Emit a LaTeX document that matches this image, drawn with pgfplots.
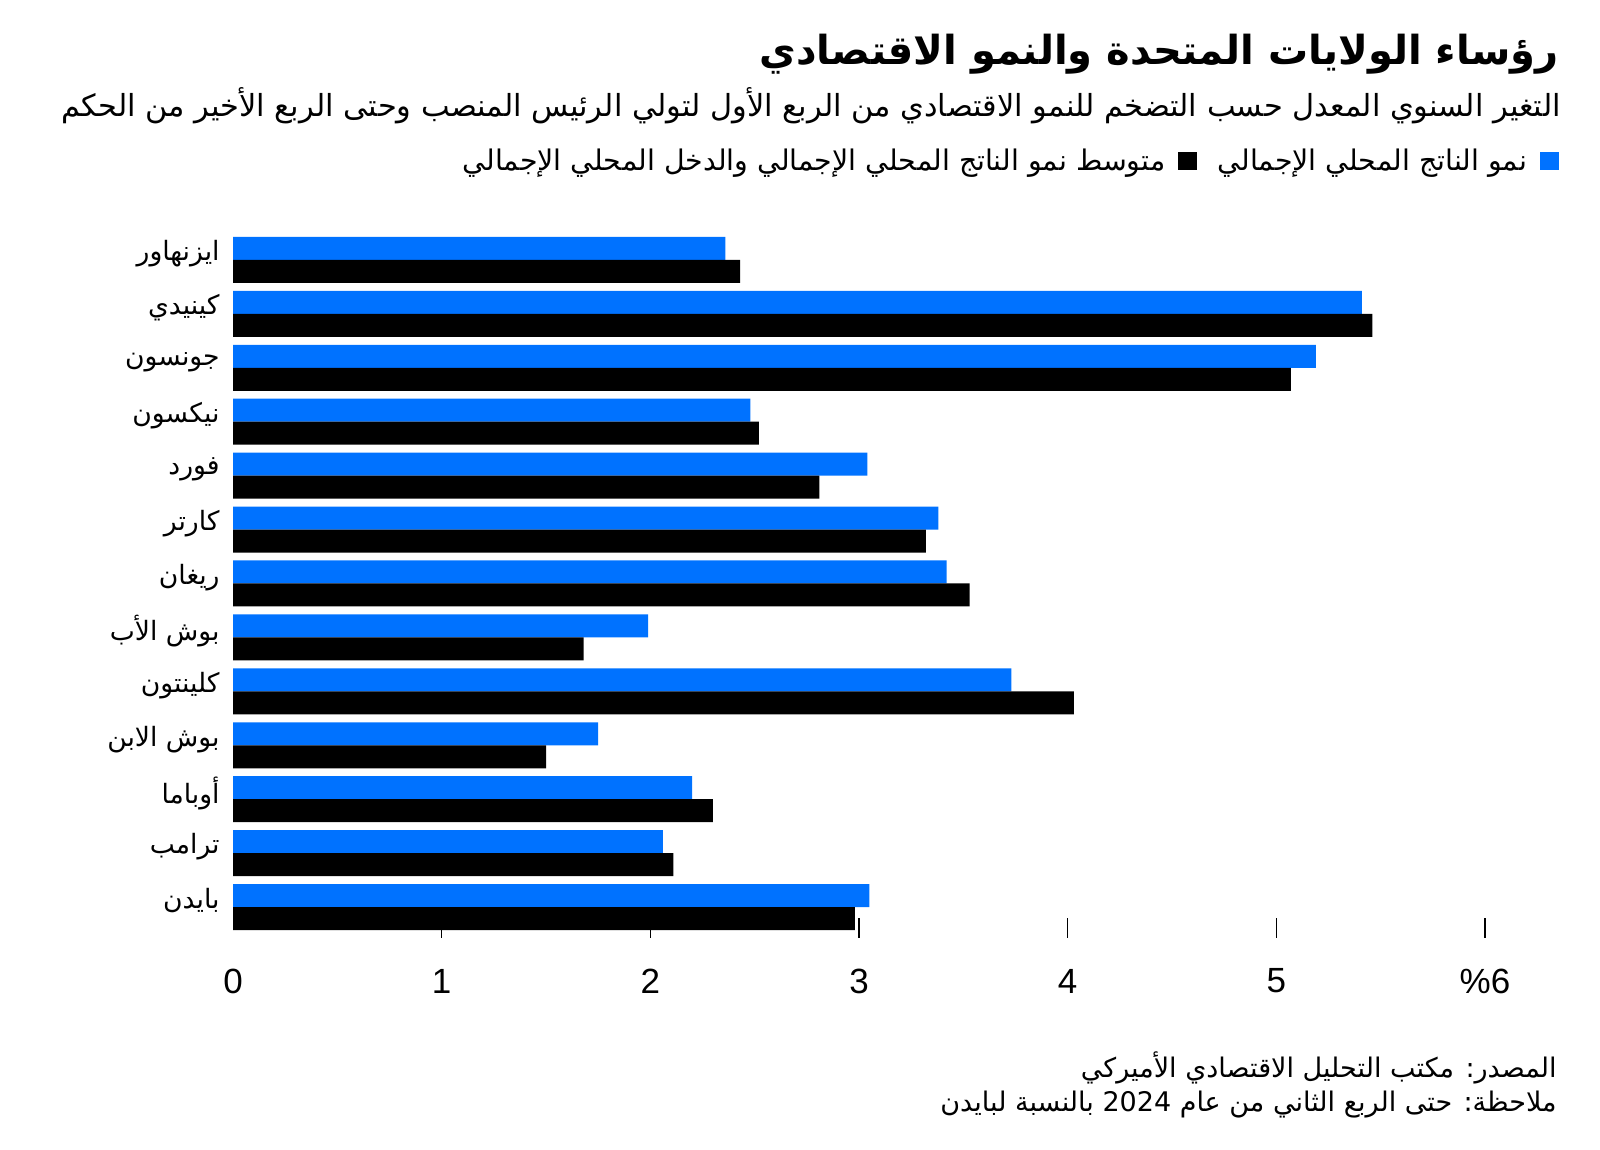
\documentclass[border=0pt]{standalone}
\usepackage{fontspec}
\setmainfont{Liberation Sans}
\newfontfamily\arabicfont[Script=Arabic]{DejaVu Sans}
\usepackage{pgfplots}
\usepackage{pgfplotstable}
\pgfplotsset{compat=1.18}
\TeXXeTstate=1
\definecolor{gdpblue}{RGB}{0,114,255}
\pgfplotstableread{
y blue black
0 2.36 2.43
-1 5.41 5.46
-2 5.19 5.07
-3 2.48 2.52
-4 3.04 2.81
-5 3.38 3.32
-6 3.42 3.53
-7 1.99 1.68
-8 3.73 4.03
-9 1.75 1.50
-10 2.20 2.30
-11 2.06 2.11
-12 3.05 2.98
}\datatable
\begin{document}
\begin{tikzpicture}
\path[use as bounding box] (0,0) rectangle (800pt,575pt);
\begin{axis}[
  at={(116.5pt,106pt)}, anchor=south west,
  scale only axis, width=626pt, height=352.5pt,
  xbar, bar width=11.5pt,
  xmin=0, xmax=6, ymin=-12.574, ymax=0.5,
  axis line style={draw=none},
  xtick={1,...,6}, xticklabels={1,2,3,4,5,\%6},
  extra x ticks={0}, extra x tick labels={0},
  extra x tick style={major tick length=0pt},
  xtick pos=bottom, tick align=inside, major tick length=10pt,
  xtick style={black, line width=0.75pt},
  xticklabel style={font=\fontsize{17.5}{17.5}\selectfont, anchor=center, inner sep=0pt, yshift=-21.5pt},
  ytick={-12,...,0},
  yticklabels={\beginR بايدن\endR,\beginR ترامب\endR,\beginR أوباما\endR,\beginR بوش الابن\endR,\beginR كلينتون\endR,\beginR بوش الأب\endR,\beginR ريغان\endR,\beginR كارتر\endR,\beginR فورد\endR,\beginR نيكسون\endR,\beginR جونسون\endR,\beginR كينيدي\endR,\beginR ايزنهاور\endR},
  ytick pos=left, ytick style={draw=none},
  yticklabel style={font=\arabicfont\fontsize{13.3}{13.3}\selectfont, anchor=east, inner sep=0pt, xshift=-6.5pt, yshift=3pt},
  legend style={at={(1.0591,1.102)}, anchor=east, draw=none, fill=none,
    font=\arabicfont\fontsize{14.2}{16}\selectfont, legend columns=2,
    /tikz/every odd column/.style={column sep=4.5pt},
    /tikz/every even column/.style={column sep=8.5pt}, inner sep=0pt},
  legend plot pos=right, reverse legend,
]
\addplot[fill=gdpblue, draw=none, bar shift=5.75pt,
  legend image code/.code={\fill[gdpblue] (0pt,-4.6pt) rectangle (9.2pt,4.6pt);}]
  table[x=blue, y=y]{\datatable};
\addlegendentry{\beginR نمو الناتج المحلي الإجمالي\endR}
\addplot[fill=black, draw=none, bar shift=-5.75pt,
  legend image code/.code={\fill[black] (0pt,-4.6pt) rectangle (9.2pt,4.6pt);}]
  table[x=black, y=y]{\datatable};
\addlegendentry{\beginR متوسط نمو الناتج المحلي الإجمالي والدخل المحلي الإجمالي\endR}
\end{axis}
\node[anchor=base east, inner sep=0pt, font=\arabicfont\bfseries\fontsize{20}{20}\selectfont] at (779.5pt,542.5pt) {\beginR رؤساء الولايات المتحدة والنمو الاقتصادي\endR};
\node[anchor=base east, inner sep=0pt, font=\arabicfont\fontsize{15.2}{15.2}\selectfont] at (780.5pt,516.5pt) {\beginR التغير السنوي المعدل حسب التضخم للنمو الاقتصادي من الربع الأول لتولي الرئيس المنصب وحتى الربع الأخير من الحكم\endR};
\node[anchor=base east, inner sep=0pt, font=\arabicfont\fontsize{13.5}{13.5}\selectfont] at (778.5pt,36pt) {\beginR المصدر: مكتب التحليل الاقتصادي الأميركي\endR};
\node[anchor=base east, inner sep=0pt, font=\arabicfont\fontsize{13.5}{13.5}\selectfont] at (778.5pt,19pt) {\beginR ملاحظة: حتى الربع الثاني من عام \beginL 2024\endL{} بالنسبة لبايدن\endR};
\end{tikzpicture}
\end{document}
